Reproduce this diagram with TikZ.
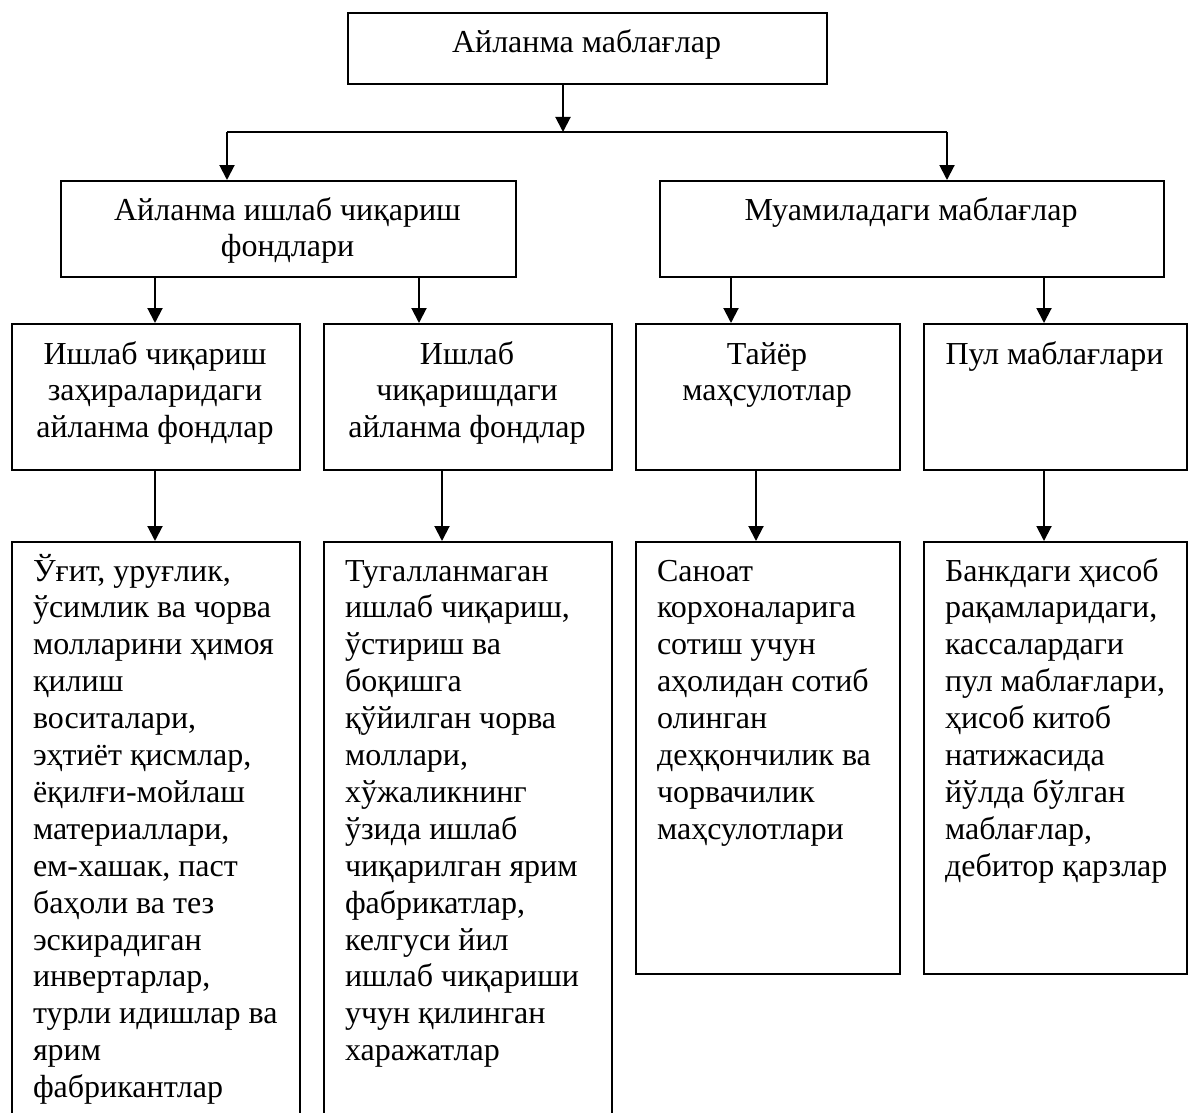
\documentclass[tikz,border=0pt]{standalone}
\usepackage{fontspec}
\setmainfont{Liberation Serif}
\usetikzlibrary{arrows.meta}
\begin{document}
\begin{tikzpicture}[x=1pt,y=-1pt,line width=2pt,
  box/.style={draw,line width=2pt,inner sep=0pt,anchor=north west},
  arr/.style={draw,line width=2pt,-{Triangle[length=15pt,width=15pt]}},
  ln/.style={draw,line width=2pt},
  txt/.style={anchor=base,inner sep=0pt,font=\fontsize{32}{36.9}\selectfont},
  txl/.style={txt,anchor=base west}]
\clip (0,0) rectangle (1188,1113);
\fill[white] (0,0) rectangle (1188,1113);
% boxes
\node[box,minimum width=479pt,minimum height=71pt] (top) at (347,12) {};
\node[box,minimum width=455pt,minimum height=96pt] (l2a) at (60,180) {};
\node[box,minimum width=504pt,minimum height=96pt] (l2b) at (659,180) {};
\node[box,minimum width=288pt,minimum height=146pt] (l3a) at (11,323) {};
\node[box,minimum width=288pt,minimum height=146pt] (l3b) at (323,323) {};
\node[box,minimum width=264pt,minimum height=146pt] (l3c) at (635,323) {};
\node[box,minimum width=263pt,minimum height=146pt] (l3d) at (923,323) {};
\node[box,minimum width=288pt,minimum height=600pt] (l4a) at (11,541) {};
\node[box,minimum width=288pt,minimum height=600pt] (l4b) at (323,541) {};
\node[box,minimum width=264pt,minimum height=432pt] (l4c) at (635,541) {};
\node[box,minimum width=263pt,minimum height=432pt] (l4d) at (923,541) {};
% texts
\node[txt] (t0) at (586.5,53) {\parbox[t]{470pt}{\centering Айланма маблағлар}};
\node[txt] (t1) at (287.5,220) {\parbox[t]{440pt}{\centering Айланма ишлаб чиқариш\\фондлари}};
\node[txt] (t2) at (911,220) {\parbox[t]{490pt}{\centering Муамиладаги маблағлар}};
\node[txt] (t3) at (155,364) {\parbox[t]{300pt}{\centering Ишлаб чиқариш\\заҳираларидаги\\айланма фондлар}};
\node[txt] (t4) at (467,364) {\parbox[t]{300pt}{\centering Ишлаб\\чиқаришдаги\\айланма фондлар}};
\node[txt] (t5) at (767,364) {\parbox[t]{300pt}{\centering Тайёр\\маҳсулотлар}};
\node[txt] (t6) at (1054.5,364) {\parbox[t]{300pt}{\centering Пул маблағлари}};
\node[txl] (t7) at (32,581) {\parbox[t]{300pt}{\raggedright Ўғит, уруғлик,\\ўсимлик ва чорва\\молларини ҳимоя\\қилиш\\воситалари,\\эҳтиёт қисмлар,\\ёқилғи-мойлаш\\материаллари,\\ем-хашак, паст\\баҳоли ва тез\\эскирадиган\\инвертарлар,\\турли идишлар ва\\ярим\\фабрикантлар}};
\node[txl] (t8) at (344,581) {\parbox[t]{300pt}{\raggedright Тугалланмаган\\ишлаб чиқариш,\\ўстириш ва\\боқишга\\қўйилган чорва\\моллари,\\хўжаликнинг\\ўзида ишлаб\\чиқарилган ярим\\фабрикатлар,\\келгуси йил\\ишлаб чиқариши\\учун қилинган\\харажатлар}};
\node[txl] (t9) at (656,581) {\parbox[t]{300pt}{\raggedright Саноат\\корхоналарига\\сотиш учун\\аҳолидан сотиб\\олинган\\деҳқончилик ва\\чорвачилик\\маҳсулотлари}};
\node[txl] (t10) at (944,581) {\parbox[t]{300pt}{\raggedright Банкдаги ҳисоб\\рақамларидаги,\\кассалардаги\\пул маблағлари,\\ҳисоб китоб\\натижасида\\йўлда бўлган\\маблағлар,\\дебитор қарзлар}};
% junction coordinates
\coordinate (j) at (563,132);
\coordinate (jl) at (227,132);
\coordinate (jr) at (947,132);
\coordinate (xa) at (155,0);
\coordinate (xb) at (419,0);
\coordinate (xc) at (731,0);
\coordinate (xd) at (1044,0);
\coordinate (yb) at (442,0);
\coordinate (yc) at (756,0);
% connectors
\draw[arr] (top.south -| j) -- (j);
\draw[ln] (jl) -- (jr);
\draw[arr] (jl) -- (jl |- l2a.north);
\draw[arr] (jr) -- (jr |- l2b.north);
\draw[arr] (l2a.south -| xa) -- (l3a.north -| xa);
\draw[arr] (l2a.south -| xb) -- (l3b.north -| xb);
\draw[arr] (l2b.south -| xc) -- (l3c.north -| xc);
\draw[arr] (l2b.south -| xd) -- (l3d.north -| xd);
\draw[arr] (l3a.south -| xa) -- (l4a.north -| xa);
\draw[arr] (l3b.south -| yb) -- (l4b.north -| yb);
\draw[arr] (l3c.south -| yc) -- (l4c.north -| yc);
\draw[arr] (l3d.south -| xd) -- (l4d.north -| xd);
\end{tikzpicture}
\end{document}
